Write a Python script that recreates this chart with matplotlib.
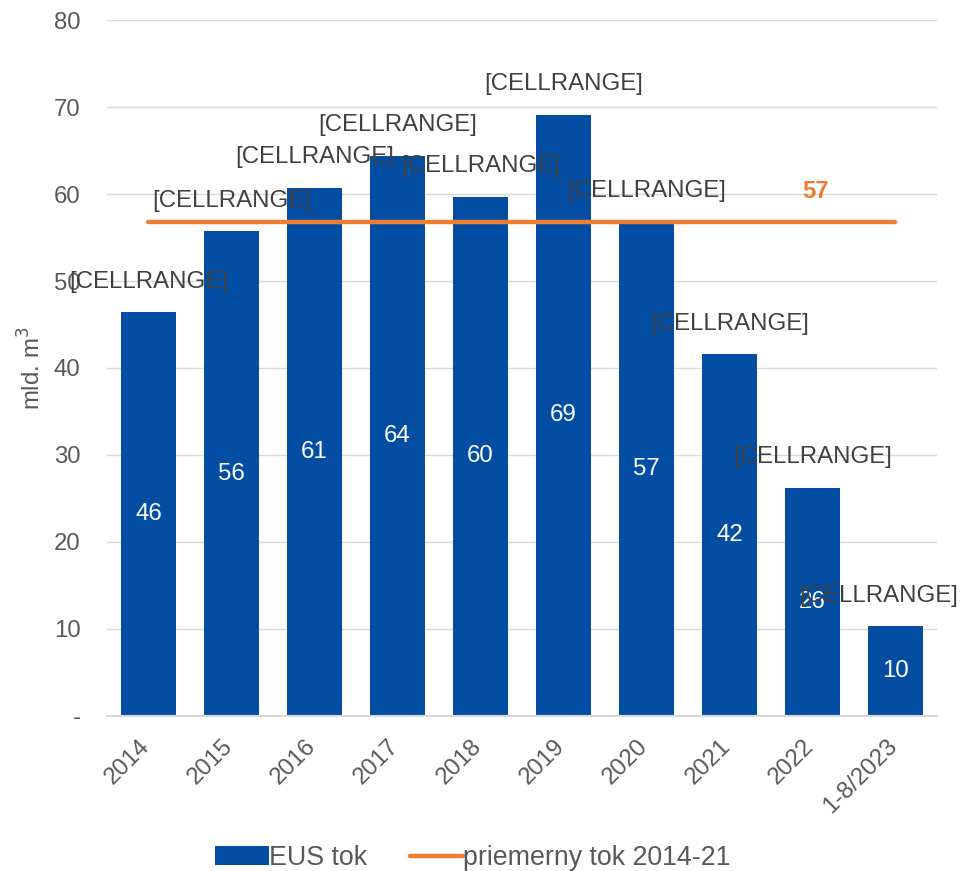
import matplotlib.pyplot as plt
import matplotlib.transforms as mtransforms

plt.rcParams['font.family'] = ['Liberation Sans', 'DejaVu Sans']

years = ["2014", "2015", "2016", "2017", "2018", "2019", "2020", "2021", "2022", "1-8/2023"]
flow = [46.4, 55.7, 60.7, 64.4, 59.7, 69.1, 56.8, 41.6, 26.2, 10.3]
flow_labels = ["46", "56", "61", "64", "60", "69", "57", "42", "26", "10"]
avg_flow = 56.8
avg_label = "57"
yticks = [0, 10, 20, 30, 40, 50, 60, 70, 80]
ytick_labels = ["-", "10", "20", "30", "40", "50", "60", "70", "80"]

blue = "#034EA2"
orange = "#ED7D31"
grey = "#595959"
fs = 17.3

fig = plt.figure(figsize=(9.61, 8.71), dpi=100)
ax = fig.add_axes([0.1113, 0.178, 0.8637, 0.799])

x = list(range(len(years)))
bars = ax.bar(x, flow, width=0.66, color=blue, label="EUS tok", zorder=2)
line, = ax.plot([x[0], x[-1]], [avg_flow, avg_flow], color=orange, lw=3.2,
                solid_capstyle="round", label="priemerny tok 2014-21", zorder=3)

# white values inside bars
for xi, v, lab in zip(x, flow, flow_labels):
    ax.text(xi, v / 2, lab, color="white", fontsize=fs, ha="center", va="center", zorder=4)

# leftover Excel placeholder labels above bars
for xi, v in zip(x, flow):
    dx = -12 if xi == x[-1] else 0
    ax.annotate("[CELLRANGE]", (xi, v), xytext=(dx, 22), textcoords="offset points",
                ha="center", va="center", fontsize=fs, color="#404040", zorder=5)

ax.annotate(avg_label, (x[8], avg_flow), xytext=(2, 22), textcoords="offset points",
            ha="center", va="center", fontsize=fs, color=orange, fontweight="bold", zorder=5)

ax.set_xlim(-0.5, len(years) - 0.5)
ax.set_ylim(0, 80)
ax.set_yticks(yticks)
ax.set_yticklabels(ytick_labels)
ax.set_xticks(x)
ax.set_xticklabels(years, rotation=45, ha="right", va="top", rotation_mode="anchor")
ax.tick_params(axis="both", length=0, labelsize=fs, labelcolor=grey)
ax.tick_params(axis="y", pad=19)
ax.tick_params(axis="x", pad=14)
ax.set_ylabel("mld. m$^3$", fontsize=fs, color=grey, labelpad=6)

shift = mtransforms.ScaledTranslation(-7 / 72, 0, fig.dpi_scale_trans)
for lab in ax.get_xticklabels():
    lab.set_transform(lab.get_transform() + shift)

ax.grid(axis="y", color="#D9D9D9", lw=1, zorder=0)
ax.set_axisbelow(True)
for s in ["top", "right", "left"]:
    ax.spines[s].set_visible(False)
ax.spines["bottom"].set_color("#D9D9D9")
ax.spines["bottom"].set_linewidth(1.5)

fig.legend(handles=[bars, line], loc="center", bbox_to_anchor=(0.492, 0.015),
           bbox_transform=fig.transFigure, ncol=2, frameon=False, fontsize=19.3,
           labelcolor=grey, handlelength=2.0, handletextpad=0.0, columnspacing=1.6)

fig.savefig("out.png", dpi=100)
